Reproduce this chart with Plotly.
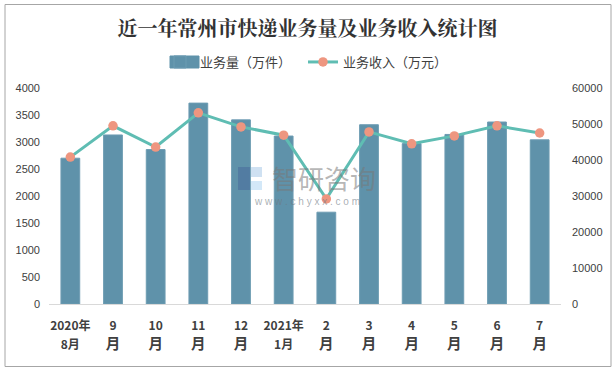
import plotly.graph_objects as go

DIG = '<span style="font-size:12px">%s</span>'
categories = [DIG % "2020年" + "<br>" + DIG % "8月", DIG % "9" + "<br>月", DIG % "10" + "<br>月",
              DIG % "11" + "<br>月", DIG % "12" + "<br>月", DIG % "2021年" + "<br>" + DIG % "1月",
              DIG % "2" + "<br>月", DIG % "3" + "<br>月", DIG % "4" + "<br>月",
              DIG % "5" + "<br>月", DIG % "6" + "<br>月", DIG % "7" + "<br>月"]
volume = [2700, 3130, 2860, 3720, 3410, 3110, 1700, 3320, 2970, 3140, 3370, 3040]
revenue = [40800, 49500, 43600, 53100, 49200, 46900, 29200, 47800, 44500, 46700, 49500, 47500]
left_ticks = [0, 500, 1000, 1500, 2000, 2500, 3000, 3500, 4000]
right_ticks = [0, 10000, 20000, 30000, 40000, 50000, 60000]
title = "近一年常州市快递业务量及业务收入统计图"
series_names = ["业务量（万件）", "业务收入（万元）"]

SANS = "Liberation Sans, Noto Sans CJK SC, sans-serif"
CJK = "Noto Sans CJK SC, sans-serif"
TXT = "#404040"
BAR = "#5f92aa"


def px(x):
    return x / 615


def py(y):
    return (371 - y) / 371


def rect(x0, y0, x1, y1, fill, line=None, layer="above"):
    return dict(type="rect", xref="paper", yref="paper", x0=px(x0), x1=px(x1), y0=py(y1), y1=py(y0),
                fillcolor=fill, line=dict(color=line or "rgba(0,0,0,0)", width=1), layer=layer)


fig = go.Figure()
fig.add_trace(go.Bar(x=categories, y=volume, name=series_names[0], yaxis="y",
                     marker=dict(color=BAR, line=dict(color="#6d9cb2", width=1)),
                     width=0.44))
fig.add_trace(go.Scatter(x=categories, y=revenue, name=series_names[1], yaxis="y2",
                         mode="lines+markers",
                         line=dict(color="#5fbdb3", width=3),
                         marker=dict(color="#ee9680", size=9.5)))

fig.update_layout(
    template="none",
    width=615, height=371,
    margin=dict(l=0, r=0, t=0, b=0, autoexpand=False),
    paper_bgcolor="white", plot_bgcolor="white",
    showlegend=True,
    bargap=0.56,
    title=dict(text=title, x=0.5, xanchor="center", y=0.922, yanchor="middle",
               font=dict(family="Noto Serif CJK SC, " + CJK, size=20, color="#333333", weight="bold")),
    legend=dict(orientation="h", x=px(160), xanchor="left", y=py(62), yanchor="middle",
                font=dict(family=SANS, size=13, color=TXT), itemwidth=30, traceorder="normal",
                bgcolor="rgba(0,0,0,0)", entrywidth=98, entrywidthmode="pixels"),
    xaxis=dict(domain=[px(49), px(561)], type="category", automargin=False, range=[-0.5, 11.5],
               tickfont=dict(family=CJK, size=14.5, color=TXT, weight="bold"),
               showline=True, linecolor="#d9d9d9", linewidth=1, ticks="", showgrid=False,
               zeroline=False, ticklabelstandoff=8, tickangle=0),
    yaxis=dict(domain=[py(304), py(88)], range=[0, 4000], tickvals=left_ticks, automargin=False,
               tickfont=dict(family=SANS, size=11, color=TXT), showgrid=False, zeroline=False,
               showline=False, ticks="", tickformat="d", ticklabelstandoff=8),
    yaxis2=dict(overlaying="y", side="right", range=[0, 60000], tickvals=right_ticks, automargin=False,
                tickfont=dict(family=SANS, size=11, color=TXT), showgrid=False, zeroline=False,
                showline=False, ticks="", tickformat="d", ticklabelstandoff=10),
    shapes=[
        rect(5, 4.5, 611, 366.5, "rgba(0,0,0,0)", "#a6a6a6", "below"),
        rect(170, 56, 199, 68, BAR, BAR),
        rect(238, 167, 250, 190, "rgba(60,90,150,0.38)"),
        rect(251, 167, 262, 177, "rgba(130,175,220,0.38)"),
        rect(251, 181, 262, 190, "rgba(130,190,235,0.35)"),
    ],
    annotations=[
        dict(text="智研咨询", xref="paper", yref="paper", x=px(324), y=py(177), showarrow=False,
             font=dict(family=CJK, size=26, color="rgba(120,120,120,0.55)")),
        dict(text="w w w . c h y x x . c o m", xref="paper", yref="paper", x=px(307), y=py(202),
             showarrow=False, font=dict(family=SANS, size=10, color="rgba(110,120,130,0.6)")),
    ],
)
fig.write_html("out.html", post_script="document.body.style.margin='0';",
               config=dict(displayModeBar=False))
